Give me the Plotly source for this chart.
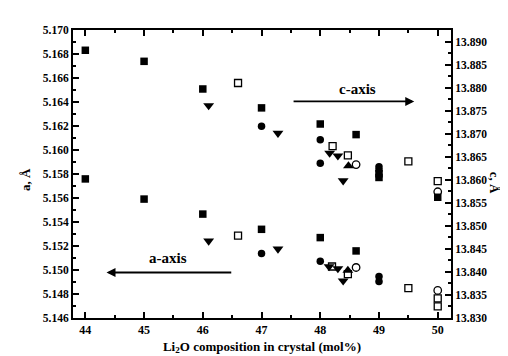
import plotly.graph_objects as go

# ---------------- data ----------------
# a-axis lattice constant (left axis, Å)
a_sq_x = [44, 45, 46, 47, 48, 48.61]
a_sq_y = [5.15759, 5.15591, 5.15466, 5.15339, 5.15270, 5.15159]
a_circ_x = [47, 48, 49, 49]
a_circ_y = [5.15137, 5.15073, 5.14946, 5.14905]
a_tri_x = [46.1, 47.28, 48.15, 48.3, 48.39]
a_tri_y = [5.15242, 5.15176, 5.15029, 5.15012, 5.14910]
a_osq_x = [46.6, 48.2, 48.47, 49.5, 50, 50]
a_osq_y = [5.15286, 5.15029, 5.14965, 5.14849, 5.14763, 5.14697]
a_utri_x = [48.47]
a_utri_y = [5.14996]
a_ocirc_x = [48.61, 50]
a_ocirc_y = [5.15021, 5.14830]

# c-axis lattice constant (right axis, Å)
c_sq_x = [44, 45, 46, 47, 48, 48.61, 49, 49, 50]
c_sq_y = [13.8881, 13.8857, 13.8797, 13.8756, 13.8721, 13.8698, 13.8613, 13.8605, 13.8562]
c_circ_x = [47, 48, 48, 49, 49]
c_circ_y = [13.8716, 13.8687, 13.8636, 13.8628, 13.8621]
c_tri_x = [46.1, 47.28, 48.16, 48.3, 48.39]
c_tri_y = [13.8761, 13.8701, 13.8658, 13.8652, 13.8598]
c_osq_x = [46.6, 48.21, 48.47, 49.5, 50]
c_osq_y = [13.8810, 13.8673, 13.8653, 13.8640, 13.8597]
c_utri_x = [48.48]
c_utri_y = [13.8630]
c_ocirc_x = [48.61, 50]
c_ocirc_y = [13.8633, 13.8574]

x_ticks = [44, 45, 46, 47, 48, 49, 50]

FONT = "Liberation Serif"

fig = go.Figure()

def add(x, y, symbol, size, axis):
    open_ = "open" in symbol
    fig.add_trace(go.Scatter(
        x=x, y=y, mode="markers", yaxis=axis, showlegend=False,
        marker=dict(symbol=symbol, size=size, color="black",
                    line=dict(color="black", width=1.3 if open_ else 0)),
    ))

for axis, sets in (("y", [(a_sq_x, a_sq_y, "square", 7.5), (a_circ_x, a_circ_y, "circle", 7.5),
                          (a_tri_x, a_tri_y, "triangle-down", 9.5), (a_osq_x, a_osq_y, "square-open", 7),
                          (a_utri_x, a_utri_y, "triangle-up", 9.5), (a_ocirc_x, a_ocirc_y, "circle-open", 7.5)]),
                   ("y2", [(c_sq_x, c_sq_y, "square", 7.5), (c_circ_x, c_circ_y, "circle", 7.5),
                           (c_tri_x, c_tri_y, "triangle-down", 9.5), (c_osq_x, c_osq_y, "square-open", 7),
                           (c_utri_x, c_utri_y, "triangle-up", 9.5), (c_ocirc_x, c_ocirc_y, "circle-open", 7.5)])):
    for x, y, s, sz in sets:
        add(x, y, s, sz, axis)

tickfont = dict(family=FONT, size=11.5, color="black", weight="bold")

fig.update_layout(
    width=508, height=356,
    margin=dict(l=65, r=65, t=22, b=43),
    paper_bgcolor="white", plot_bgcolor="white",
    font=dict(family=FONT, color="black"),
    xaxis=dict(
        range=[43.79, 50.226], tickvals=x_ticks, ticktext=[str(v) for v in x_ticks],
        ticks="inside", ticklen=6, tickwidth=2, tickcolor="black",
        showline=True, linewidth=2, linecolor="black", mirror="ticks",
        showgrid=False, zeroline=False,
        tickfont=dict(family=FONT, size=12, color="black", weight="bold"),
        minor=dict(ticks="inside", ticklen=3, tickwidth=1.5, dtick=0.5, tick0=44, tickcolor="black"),
        title=dict(text="Li<sub>2</sub>O composition in crystal (mol%)",
                   font=dict(family=FONT, size=13, color="black", weight="bold"), standoff=5),
    ),
    yaxis=dict(
        range=[5.146, 5.170], dtick=0.002, tick0=5.146, tickformat=".3f",
        ticks="inside", ticklen=6, tickwidth=2, tickcolor="black",
        showline=True, linewidth=2, linecolor="black",
        showgrid=False, zeroline=False, tickfont=tickfont,
        minor=dict(ticks="inside", ticklen=3, tickwidth=1.5, dtick=0.001, tickcolor="black"),
    ),
    yaxis2=dict(
        range=[13.830, 13.8925], dtick=0.005, tick0=13.830, tickformat=".3f",
        overlaying="y", side="right",
        ticks="inside", ticklen=6, tickwidth=2, tickcolor="black",
        showline=True, linewidth=2, linecolor="black",
        showgrid=False, zeroline=False, tickfont=tickfont,
        minor=dict(ticks="inside", ticklen=3, tickwidth=1.5, dtick=0.0025, tickcolor="black"),
    ),
)

titlefont = dict(family=FONT, size=13, color="black", weight="bold")
fig.add_annotation(text="a, Å", xref="paper", yref="paper", x=-0.124, y=0.48,
                   xanchor="center", yanchor="middle",
                   textangle=-90, showarrow=False, font=titlefont)
fig.add_annotation(text="c, Å", xref="paper", yref="paper", x=1.116, y=0.47,
                   xanchor="center", yanchor="middle",
                   textangle=90, showarrow=False, font=titlefont)

labfont = dict(family=FONT, size=15, color="black", weight="bold")
# c-axis arrow and label
fig.add_annotation(x=49.60, y=13.8770, ax=47.52, ay=13.8770, xref="x", yref="y2",
                   axref="x", ayref="y2", text="", showarrow=True,
                   arrowhead=2, arrowsize=1, arrowwidth=1.8, arrowcolor="black")
fig.add_annotation(x=48.64, y=13.8797, xref="x", yref="y2", text="c-axis",
                   showarrow=False, font=labfont)
# a-axis arrow and label
fig.add_annotation(x=44.36, y=5.14979, ax=46.51, ay=5.14979, xref="x", yref="y",
                   axref="x", ayref="y", text="", showarrow=True,
                   arrowhead=2, arrowsize=1, arrowwidth=1.8, arrowcolor="black")
fig.add_annotation(x=45.41, y=5.15098, xref="x", yref="y", text="a-axis",
                   showarrow=False, font=labfont)

fig.write_html("out.html")
